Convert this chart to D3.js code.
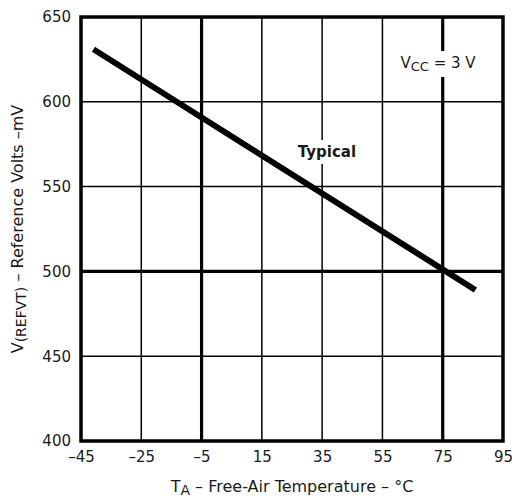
<!DOCTYPE html>
<html>
<head>
<meta charset="utf-8">
<script src="https://cdn.jsdelivr.net/npm/d3@7"></script>
<style>
  body { margin: 0; background: #fff; }
  text { font-family: "DejaVu Sans", sans-serif; fill: #1a1a1a; }
</style>
</head>
<body>
<svg id="chart" width="512" height="500"></svg>
<script>
// values
var temps = [-40, 85];
var vref = [630, 490];
var xTicks = [-45, -25, -5, 15, 35, 55, 75, 95];
var yTicks = [400, 450, 500, 550, 600, 650];
var xHeavy = [-5, 75];
var yHeavy = [500];

var margin = {top: 17, right: 9, bottom: 59, left: 81};
var width = 512, height = 500;
var fs = "15px";
var tfs = "16px";

var svg = d3.select("#chart");

var x = d3.scaleLinear()
    .domain([-45, 95])
    .range([margin.left, width - margin.right]);

var y = d3.scaleLinear()
    .domain([400, 650])
    .range([height - margin.bottom, margin.top]);

// grid
var grid = svg.append("g");
grid.selectAll("line.vx")
  .data(xTicks.slice(1, -1))
  .join("line")
    .attr("x1", d => x(d)).attr("x2", d => x(d))
    .attr("y1", y(400)).attr("y2", y(650))
    .attr("stroke", "#000")
    .attr("stroke-width", d => xHeavy.includes(d) ? 3.2 : 1.5);

grid.selectAll("line.hy")
  .data(yTicks.slice(1, -1))
  .join("line")
    .attr("x1", x(-45)).attr("x2", x(95))
    .attr("y1", d => y(d)).attr("y2", d => y(d))
    .attr("stroke", "#000")
    .attr("stroke-width", d => yHeavy.includes(d) ? 3.2 : 1.5);

// labels with white backing so they cut the grid
function label(g) {
  var bb = g.node().getBBox();
  g.insert("rect", ":first-child")
    .attr("x", bb.x - 3).attr("y", bb.y - 3)
    .attr("width", bb.width + 6).attr("height", bb.height + 6)
    .attr("fill", "#fff");
}

var vcc = svg.append("g");
var vt = vcc.append("text")
    .attr("x", 438).attr("y", 68)
    .attr("text-anchor", "middle")
    .style("font-size", fs);
vt.append("tspan").text("V");
vt.append("tspan").attr("dy", 3).style("font-size", "13px").text("CC");
vt.append("tspan").attr("dy", -3).text(" = 3 V");
label(vcc);

var typ = svg.append("g");
typ.append("text")
    .attr("x", 327).attr("y", 157)
    .attr("text-anchor", "middle")
    .style("font-size", fs)
    .style("font-weight", "bold")
    .text("Typical");
label(typ);

// data line
var line = d3.line()
    .x(d => x(d[0]))
    .y(d => y(d[1]));

svg.append("path")
    .datum(d3.zip(temps, vref))
    .attr("d", line)
    .attr("fill", "none")
    .attr("stroke", "#000")
    .attr("stroke-width", 6)
    .attr("stroke-linecap", "square");

// frame
svg.append("rect")
    .attr("x", x(-45)).attr("y", y(650))
    .attr("width", x(95) - x(-45))
    .attr("height", y(400) - y(650))
    .attr("fill", "none")
    .attr("stroke", "#000")
    .attr("stroke-width", 3.5);

// axes (tick labels only)
function styleTicks(g) {
  g.select(".domain").remove();
  g.selectAll("text")
    .style("font-size", fs)
    .style("font-family", "DejaVu Sans, sans-serif")
    .attr("fill", "#1a1a1a");
}

var xAxis = d3.axisBottom(x).tickValues(xTicks).tickSize(0).tickPadding(10)
    .tickFormat(d => d < 0 ? "\u2013" + Math.abs(d) : d);
svg.append("g")
    .attr("transform", `translate(0,${y(400)})`)
    .call(xAxis)
    .call(styleTicks);

var yAxis = d3.axisLeft(y).tickValues(yTicks).tickSize(0).tickPadding(10);
svg.append("g")
    .attr("transform", `translate(${x(-45)},0)`)
    .call(yAxis)
    .call(styleTicks);

// axis titles
var xt = svg.append("text")
    .attr("x", 292).attr("y", 492)
    .attr("text-anchor", "middle")
    .style("font-size", tfs);
xt.append("tspan").text("T");
xt.append("tspan").attr("dy", 3).style("font-size", "14px").text("A");
xt.append("tspan").attr("dy", -3).text(" \u2013 Free-Air Temperature \u2013 \u00b0C");

var yt = svg.append("text")
    .attr("transform", `translate(23,229) rotate(-90)`)
    .attr("text-anchor", "middle")
    .style("font-size", tfs);
yt.append("tspan").text("V");
yt.append("tspan").attr("dy", 3).style("font-size", "14px").text("(REFVT)");
yt.append("tspan").attr("dy", -3).text(" \u2013 Reference Volts \u2013mV");
</script>
</body>
</html>
